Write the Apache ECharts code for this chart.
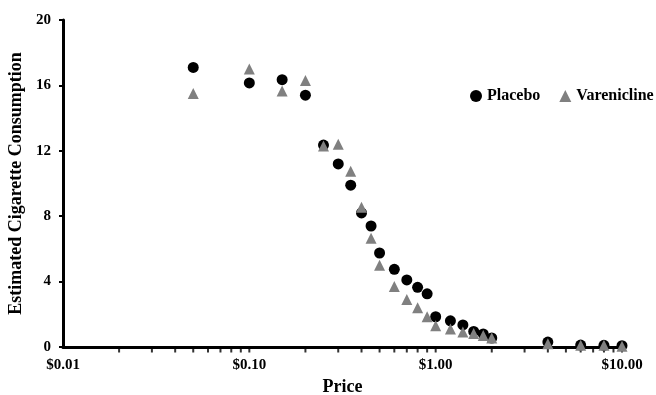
<!DOCTYPE html>
<html>
<head>
<meta charset="utf-8">
<script src="https://cdn.jsdelivr.net/npm/echarts@6/dist/echarts.min.js"></script>
<style>html,body{margin:0;padding:0;background:#fff}#c{width:656px;height:395px}</style>
</head>
<body>
<div id="c"></div>
<script>
var prices = [0.05, 0.10, 0.15, 0.20, 0.25, 0.30, 0.35, 0.40, 0.45, 0.50, 0.60, 0.70, 0.80, 0.90, 1.00, 1.20, 1.40, 1.60, 1.80, 2.00, 4.00, 6.00, 8.00, 10.00];
var placebo = [17.1, 16.15, 16.35, 15.4, 12.35, 11.2, 9.9, 8.2, 7.4, 5.75, 4.75, 4.1, 3.65, 3.25, 1.85, 1.6, 1.35, 0.95, 0.8, 0.55, 0.3, 0.12, 0.1, 0.08];
var varenicline = [15.5, 17.0, 15.65, 16.3, 12.3, 12.4, 10.75, 8.55, 6.65, 5.0, 3.7, 2.9, 2.4, 1.85, 1.3, 1.1, 0.92, 0.82, 0.7, 0.55, 0.2, 0.1, 0.1, 0.05];
var minorTicks = [0.02,0.03,0.04,0.05,0.06,0.07,0.08,0.09,0.1,0.2,0.3,0.4,0.5,0.6,0.7,0.8,0.9,1,2,3,4,5,6,7,8,9,10];
var yTicks = [0, 4, 8, 12, 16, 20];

function pairs(xs, ys){ return xs.map(function(x,i){ return [x, ys[i]]; }); }

var font = 'Liberation Serif';
var chart = echarts.init(document.getElementById('c'));
chart.setOption({
  animation: false,
  backgroundColor: '#fff',
  grid: {left: 63, right: 34, top: 20, bottom: 48, containLabel: false, outerBoundsMode: 'none'},
  legend: {
    orient: 'horizontal', left: 470, top: 88, padding: 0,
    itemWidth: 12, itemHeight: 12, itemGap: 19,
    textStyle: {fontFamily: font, fontWeight: 'bold', fontSize: 16, color: '#000'},
    data: [{name: 'Placebo', icon: 'circle'}, {name: 'Varenicline', icon: 'triangle'}]
  },
  xAxis: {
    type: 'log', logBase: 10, min: 0.01, max: 10,
    name: 'Price', nameLocation: 'middle', nameGap: 27,
    nameTextStyle: {fontFamily: font, fontWeight: 'bold', fontSize: 18, color: '#000'},
    axisLine: {lineStyle: {color: '#000', width: 3}},
    axisTick: {show: false},
    splitLine: {show: false},
    axisLabel: {
      fontFamily: font, fontWeight: 'bold', fontSize: 15, color: '#000', margin: 11,
      formatter: function(v){ return '$' + Number(v).toFixed(2); }
    }
  },
  yAxis: {
    type: 'value', min: yTicks[0], max: yTicks[yTicks.length-1], interval: 4,
    name: 'Estimated Cigarette Consumption', nameLocation: 'middle', nameGap: 31,
    nameTextStyle: {fontFamily: font, fontWeight: 'bold', fontSize: 18, color: '#000'},
    axisLine: {show: true, lineStyle: {color: '#000', width: 3}},
    axisTick: {show: true, length: 4, lineStyle: {color: '#000', width: 2}},
    splitLine: {show: false},
    axisLabel: {fontFamily: font, fontWeight: 'bold', fontSize: 15, color: '#000', margin: 12}
  },
  series: [
    {
      name: 'ticks', type: 'scatter', silent: true, clip: false, z: 1,
      symbol: 'rect', symbolSize: [2, 5], symbolOffset: [0, 3],
      itemStyle: {color: '#000'},
      data: minorTicks.map(function(t){ return [t, 0]; })
    },
    {
      name: 'Placebo', type: 'scatter', symbol: 'circle', symbolSize: 11, z: 2,
      itemStyle: {color: '#000', opacity: 1},
      data: pairs(prices, placebo)
    },
    {
      name: 'Varenicline', type: 'scatter', symbol: 'triangle', symbolSize: 11, z: 3,
      itemStyle: {color: '#808080', opacity: 1},
      data: pairs(prices, varenicline)
    }
  ]
});
</script>
</body>
</html>
